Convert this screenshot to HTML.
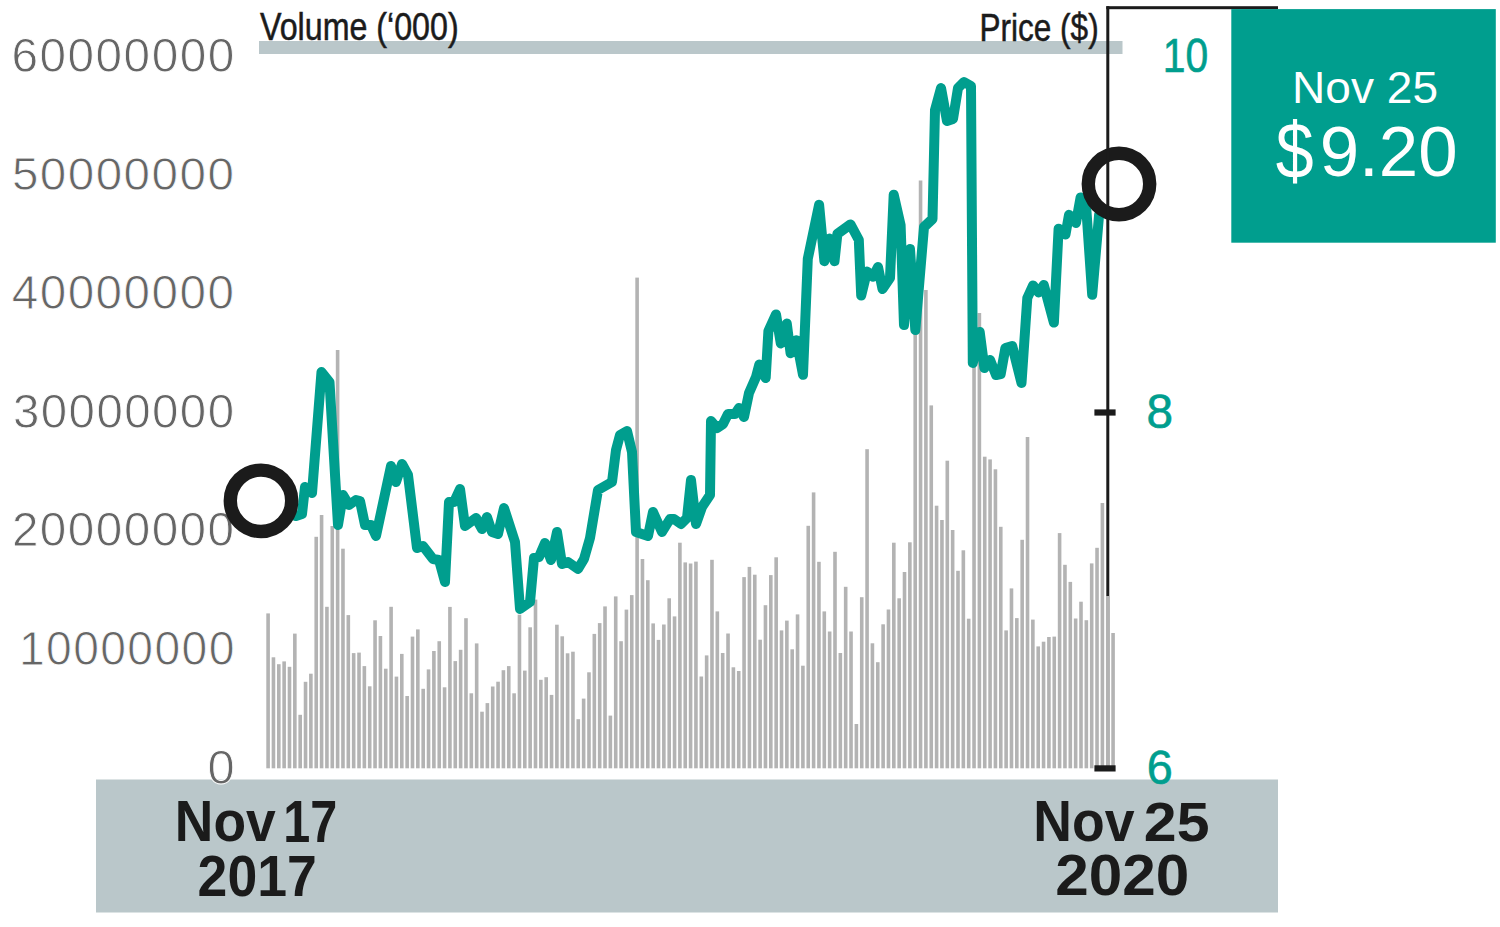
<!DOCTYPE html>
<html><head><meta charset="utf-8"><style>
html,body{margin:0;padding:0;background:#fff;}
svg{display:block;}
text{font-family:"Liberation Sans",sans-serif;}
</style></head><body>
<svg width="1500" height="927" viewBox="0 0 1500 927">
<rect x="0" y="0" width="1500" height="927" fill="#fff"/>
<!-- header strip -->
<rect x="259" y="41" width="863.5" height="13" fill="#bac7ca"/>
<text transform="translate(260.0,40.2) scale(0.8945,1.1)" font-size="36" font-weight="normal" fill="#1b1b1b" stroke="#1b1b1b" stroke-width="0.5">Volume (‘000)</text>
<text transform="translate(979.47,40.74) scale(0.8763,1.0694)" font-size="36" font-weight="normal" fill="#1b1b1b" stroke="#1b1b1b" stroke-width="0.5">Price ($)</text>
<!-- bottom band -->
<rect x="96" y="779.5" width="1182" height="133" fill="#bac7ca"/>
<!-- y labels -->
<text transform="translate(11.59,72.0) scale(1.0383,1.0581)" font-size="46" font-weight="normal" fill="#666666" letter-spacing="1.4" stroke="#fff" stroke-width="0.8">60000000</text>
<text transform="translate(11.89,190.3) scale(1.0354,1.0188)" font-size="46" font-weight="normal" fill="#666666" letter-spacing="1.4" stroke="#fff" stroke-width="0.8">50000000</text>
<text transform="translate(11.73,309.2) scale(1.0362,1.0312)" font-size="46" font-weight="normal" fill="#666666" letter-spacing="1.4" stroke="#fff" stroke-width="0.8">40000000</text>
<text transform="translate(12.94,427.6) scale(1.031,1.0581)" font-size="46" font-weight="normal" fill="#666666" letter-spacing="1.4" stroke="#fff" stroke-width="0.8">30000000</text>
<text transform="translate(11.89,546.2) scale(1.0364,1.0581)" font-size="46" font-weight="normal" fill="#666666" letter-spacing="1.4" stroke="#fff" stroke-width="0.8">20000000</text>
<text transform="translate(18.88,665.2) scale(1.0053,1.0375)" font-size="46" font-weight="normal" fill="#666666" letter-spacing="1.4" stroke="#fff" stroke-width="0.8">10000000</text>
<text transform="translate(207.58,783.7) scale(1.0619,1.0452)" font-size="46" font-weight="normal" fill="#666666" letter-spacing="1.4" stroke="#fff" stroke-width="0.8">0</text>
<!-- right axis -->
<rect x="1106.3" y="6.2" width="171.7" height="3" fill="#1b1b1b"/>
<rect x="1106.3" y="6.2" width="3" height="762" fill="#1b1b1b"/>
<text transform="translate(1162.83,72.2) scale(0.8891,1.0281)" font-size="46" font-weight="normal" fill="#009e8e" stroke="#009e8e" stroke-width="0.6">10</text>
<text transform="translate(1146.53,428.2) scale(1.0364,1.0312)" font-size="46" font-weight="normal" fill="#009e8e" stroke="#009e8e" stroke-width="0.6">8</text>
<text transform="translate(1146.66,784.2) scale(1.0182,1.0281)" font-size="46" font-weight="normal" fill="#009e8e" stroke="#009e8e" stroke-width="0.6">6</text>
<!-- bars -->
<g fill="#b3b3b3">
<rect x="266.30" y="613.4" width="3.6" height="154.9"/><rect x="271.65" y="657.3" width="3.6" height="111.0"/><rect x="277.00" y="664.2" width="3.6" height="104.1"/><rect x="282.34" y="661.4" width="3.6" height="106.9"/><rect x="287.69" y="666.8" width="3.6" height="101.5"/><rect x="293.04" y="633.6" width="3.6" height="134.7"/><rect x="298.39" y="714.8" width="3.6" height="53.5"/><rect x="303.74" y="681.8" width="3.6" height="86.5"/><rect x="309.08" y="673.7" width="3.6" height="94.6"/><rect x="314.43" y="536.8" width="3.6" height="231.5"/><rect x="319.78" y="515.0" width="3.6" height="253.3"/><rect x="325.13" y="606.8" width="3.6" height="161.5"/><rect x="330.48" y="526.0" width="3.6" height="242.3"/><rect x="335.82" y="350.0" width="3.6" height="418.3"/><rect x="341.17" y="548.7" width="3.6" height="219.6"/><rect x="346.52" y="615.1" width="3.6" height="153.2"/><rect x="351.87" y="653.1" width="3.6" height="115.2"/><rect x="357.22" y="652.6" width="3.6" height="115.7"/><rect x="362.56" y="666.1" width="3.6" height="102.2"/><rect x="367.91" y="686.3" width="3.6" height="82.0"/><rect x="373.26" y="620.3" width="3.6" height="148.0"/><rect x="378.61" y="636.0" width="3.6" height="132.3"/><rect x="383.96" y="668.7" width="3.6" height="99.6"/><rect x="389.30" y="606.8" width="3.6" height="161.5"/><rect x="394.65" y="676.6" width="3.6" height="91.7"/><rect x="400.00" y="653.9" width="3.6" height="114.4"/><rect x="405.35" y="696.0" width="3.6" height="72.3"/><rect x="410.70" y="636.6" width="3.6" height="131.7"/><rect x="416.04" y="629.4" width="3.6" height="138.9"/><rect x="421.39" y="688.8" width="3.6" height="79.5"/><rect x="426.74" y="669.4" width="3.6" height="98.9"/><rect x="432.09" y="651.0" width="3.6" height="117.3"/><rect x="437.44" y="641.2" width="3.6" height="127.1"/><rect x="442.78" y="687.3" width="3.6" height="81.0"/><rect x="448.13" y="606.9" width="3.6" height="161.4"/><rect x="453.48" y="661.1" width="3.6" height="107.2"/><rect x="458.83" y="649.8" width="3.6" height="118.5"/><rect x="464.18" y="618.2" width="3.6" height="150.1"/><rect x="469.52" y="693.3" width="3.6" height="75.0"/><rect x="474.87" y="643.4" width="3.6" height="124.9"/><rect x="480.22" y="711.7" width="3.6" height="56.6"/><rect x="485.57" y="703.1" width="3.6" height="65.2"/><rect x="490.92" y="686.5" width="3.6" height="81.8"/><rect x="496.26" y="681.7" width="3.6" height="86.6"/><rect x="501.61" y="670.2" width="3.6" height="98.1"/><rect x="506.96" y="666.1" width="3.6" height="102.2"/><rect x="512.31" y="693.3" width="3.6" height="75.0"/><rect x="517.66" y="614.7" width="3.6" height="153.6"/><rect x="523.00" y="670.6" width="3.6" height="97.7"/><rect x="528.35" y="627.3" width="3.6" height="141.0"/><rect x="533.70" y="599.6" width="3.6" height="168.7"/><rect x="539.05" y="679.8" width="3.6" height="88.5"/><rect x="544.40" y="677.2" width="3.6" height="91.1"/><rect x="549.74" y="694.9" width="3.6" height="73.4"/><rect x="555.09" y="624.7" width="3.6" height="143.6"/><rect x="560.44" y="636.3" width="3.6" height="132.0"/><rect x="565.79" y="653.3" width="3.6" height="115.0"/><rect x="571.14" y="651.7" width="3.6" height="116.6"/><rect x="576.48" y="719.2" width="3.6" height="49.1"/><rect x="581.83" y="698.6" width="3.6" height="69.7"/><rect x="587.18" y="672.3" width="3.6" height="96.0"/><rect x="592.53" y="633.9" width="3.6" height="134.4"/><rect x="597.88" y="623.1" width="3.6" height="145.2"/><rect x="603.22" y="606.4" width="3.6" height="161.9"/><rect x="608.57" y="715.6" width="3.6" height="52.7"/><rect x="613.92" y="596.4" width="3.6" height="171.9"/><rect x="619.27" y="641.2" width="3.6" height="127.1"/><rect x="624.62" y="609.6" width="3.6" height="158.7"/><rect x="629.96" y="595.1" width="3.6" height="173.2"/><rect x="635.31" y="277.6" width="3.6" height="490.7"/><rect x="640.66" y="559.0" width="3.6" height="209.3"/><rect x="646.01" y="580.2" width="3.6" height="188.1"/><rect x="651.36" y="623.4" width="3.6" height="144.9"/><rect x="656.70" y="639.9" width="3.6" height="128.4"/><rect x="662.05" y="624.5" width="3.6" height="143.8"/><rect x="667.40" y="598.3" width="3.6" height="170.0"/><rect x="672.75" y="616.4" width="3.6" height="151.9"/><rect x="678.10" y="542.7" width="3.6" height="225.6"/><rect x="683.44" y="562.4" width="3.6" height="205.9"/><rect x="688.79" y="563.5" width="3.6" height="204.8"/><rect x="694.14" y="561.6" width="3.6" height="206.7"/><rect x="699.49" y="676.5" width="3.6" height="91.8"/><rect x="704.84" y="655.4" width="3.6" height="112.9"/><rect x="710.18" y="559.8" width="3.6" height="208.5"/><rect x="715.53" y="611.4" width="3.6" height="156.9"/><rect x="720.88" y="653.0" width="3.6" height="115.3"/><rect x="726.23" y="633.5" width="3.6" height="134.8"/><rect x="731.58" y="667.3" width="3.6" height="101.0"/><rect x="736.92" y="671.0" width="3.6" height="97.3"/><rect x="742.27" y="577.1" width="3.6" height="191.2"/><rect x="747.62" y="566.9" width="3.6" height="201.4"/><rect x="752.97" y="574.7" width="3.6" height="193.6"/><rect x="758.32" y="639.7" width="3.6" height="128.6"/><rect x="763.66" y="605.2" width="3.6" height="163.1"/><rect x="769.01" y="575.1" width="3.6" height="193.2"/><rect x="774.36" y="557.3" width="3.6" height="211.0"/><rect x="779.71" y="630.4" width="3.6" height="137.9"/><rect x="785.06" y="620.6" width="3.6" height="147.7"/><rect x="790.40" y="649.3" width="3.6" height="119.0"/><rect x="795.75" y="614.4" width="3.6" height="153.9"/><rect x="801.10" y="665.7" width="3.6" height="102.6"/><rect x="806.45" y="525.8" width="3.6" height="242.5"/><rect x="811.80" y="492.4" width="3.6" height="275.9"/><rect x="817.14" y="561.8" width="3.6" height="206.5"/><rect x="822.49" y="611.4" width="3.6" height="156.9"/><rect x="827.84" y="631.5" width="3.6" height="136.8"/><rect x="833.19" y="551.8" width="3.6" height="216.5"/><rect x="838.54" y="653.0" width="3.6" height="115.3"/><rect x="843.88" y="586.8" width="3.6" height="181.5"/><rect x="849.23" y="631.5" width="3.6" height="136.8"/><rect x="854.58" y="724.0" width="3.6" height="44.3"/><rect x="859.93" y="597.2" width="3.6" height="171.1"/><rect x="865.28" y="449.2" width="3.6" height="319.1"/><rect x="870.62" y="643.3" width="3.6" height="125.0"/><rect x="875.97" y="662.2" width="3.6" height="106.1"/><rect x="881.32" y="624.3" width="3.6" height="144.0"/><rect x="886.67" y="609.5" width="3.6" height="158.8"/><rect x="892.02" y="542.7" width="3.6" height="225.6"/><rect x="897.36" y="598.3" width="3.6" height="170.0"/><rect x="902.71" y="572.0" width="3.6" height="196.3"/><rect x="908.06" y="542.3" width="3.6" height="226.0"/><rect x="913.41" y="330.0" width="3.6" height="438.3"/><rect x="918.76" y="180.5" width="3.6" height="587.8"/><rect x="924.10" y="290.0" width="3.6" height="478.3"/><rect x="929.45" y="405.4" width="3.6" height="362.9"/><rect x="934.80" y="505.7" width="3.6" height="262.6"/><rect x="940.15" y="520.0" width="3.6" height="248.3"/><rect x="945.50" y="460.7" width="3.6" height="307.6"/><rect x="950.84" y="530.0" width="3.6" height="238.3"/><rect x="956.19" y="570.8" width="3.6" height="197.5"/><rect x="961.54" y="550.3" width="3.6" height="218.0"/><rect x="966.89" y="618.7" width="3.6" height="149.6"/><rect x="972.24" y="360.0" width="3.6" height="408.3"/><rect x="977.58" y="313.0" width="3.6" height="455.3"/><rect x="982.93" y="456.7" width="3.6" height="311.6"/><rect x="988.28" y="459.4" width="3.6" height="308.9"/><rect x="993.63" y="469.3" width="3.6" height="299.0"/><rect x="998.98" y="526.8" width="3.6" height="241.5"/><rect x="1004.32" y="630.4" width="3.6" height="137.9"/><rect x="1009.67" y="588.4" width="3.6" height="179.9"/><rect x="1015.02" y="618.1" width="3.6" height="150.2"/><rect x="1020.37" y="539.8" width="3.6" height="228.5"/><rect x="1025.72" y="437.0" width="3.6" height="331.3"/><rect x="1031.06" y="619.6" width="3.6" height="148.7"/><rect x="1036.41" y="646.4" width="3.6" height="121.9"/><rect x="1041.76" y="641.7" width="3.6" height="126.6"/><rect x="1047.11" y="637.0" width="3.6" height="131.3"/><rect x="1052.46" y="636.6" width="3.6" height="131.7"/><rect x="1057.80" y="533.1" width="3.6" height="235.2"/><rect x="1063.15" y="564.8" width="3.6" height="203.5"/><rect x="1068.50" y="581.9" width="3.6" height="186.4"/><rect x="1073.85" y="618.5" width="3.6" height="149.8"/><rect x="1079.20" y="601.7" width="3.6" height="166.6"/><rect x="1084.54" y="620.2" width="3.6" height="148.1"/><rect x="1089.89" y="563.4" width="3.6" height="204.9"/><rect x="1095.24" y="547.8" width="3.6" height="220.5"/><rect x="1100.59" y="503.0" width="3.6" height="265.3"/><rect x="1105.94" y="596.0" width="3.6" height="172.3"/><rect x="1111.28" y="633.0" width="3.6" height="135.3"/>
</g>
<rect x="1094.4" y="409.4" width="21.2" height="6.2" fill="#1b1b1b"/>
<rect x="1094.4" y="765.3" width="21.2" height="6.2" fill="#1b1b1b"/>
<!-- price line -->
<polyline points="263,503 296,516 302,514 305,487 312,493 321.5,372 329.5,382 338,525 343,495 349,505 356,500 360,501 365,525 371,525 376,536 391,466 396,482 402,464 408,475 417,548 423,546 433,559 439,560 445,582 449,502 454,502 460,489 465,526 476,518 482,529 487,517 492,532 498,534 504,508 515,542 520,609 530,602 534,558 539,557 545,543 551,560 557,532 562,564 568,562 578,569 584,559 590,538 598,490 612,482 616,450 620,435 627,431 632,452 636,532 648,536 653,512 662,532 670,519 674,519 681,524 687,518 691,480 696,524 702,507 710,495 711,421 717,428 723,424 728,414 735,414 739,408 744,417 749,393 756,377 759.3,364.6 765.7,378 768.4,331 776,314.4 780.8,343.5 786.8,323.6 790.6,353.3 796.5,340.3 803,374.8 807.8,258.8 819.1,204.8 824.4,261.2 829.7,238.6 834.5,261.2 837.4,233.9 850.5,224.4 858.8,239.8 861.2,295.6 867,271.5 873,276.7 878,267 882.5,289 890,278 893.7,194.7 900.6,225 904,325 910,249 915.3,330 924,227 932.5,219 935,110 941,88 947,121 953,119 958,88 964,82 971,86 972.8,363 979.7,332 984.4,368 990.1,360 996,375 1000.7,374 1005.4,348 1012.2,346 1021.5,383 1027.3,298 1033,285.5 1038.8,292.5 1043.8,285 1053.9,322.6 1058.6,228.7 1065.5,234.5 1069,214.8 1076,222.9 1080.6,197.4 1086.4,210.1 1092.2,294.8 1099.1,214.8 1119,184" fill="none" stroke="#009e8e" stroke-width="10" stroke-linejoin="round" stroke-linecap="round"/>
<!-- circles -->
<circle cx="261" cy="500.8" r="30.7" fill="#fff" stroke="#1b1b1b" stroke-width="13.4"/>
<circle cx="1119" cy="184" r="30.7" fill="#fff" stroke="#1b1b1b" stroke-width="13.4"/>
<rect x="1106.3" y="150" width="3" height="68" fill="#1b1b1b"/>
<!-- teal box -->
<rect x="1231.3" y="9.1" width="264.5" height="233.6" fill="#009e8e"/>
<text transform="translate(1292.11,102.5) scale(1.047,1.0258)" font-size="44" font-weight="normal" fill="#fff">Nov 25</text>
<text transform="translate(1275.73,178.37) scale(0.973,1.1259)" font-size="70" font-weight="normal" fill="#fff">$</text>
<text transform="translate(1319.66,175.9) scale(1.0122,0.998)" font-size="70" font-weight="normal" fill="#fff">9.20</text>
<!-- date labels -->
<text transform="translate(174.85,841.19) scale(0.9369,1.0098)" font-size="57" font-weight="bold" fill="#1b1b1b">Nov</text>
<text transform="translate(283.34,842.2) scale(0.8517,1.035)" font-size="57" font-weight="bold" fill="#1b1b1b">17</text>
<text transform="translate(197.62,895.5) scale(0.9402,0.9952)" font-size="57" font-weight="bold" fill="#1b1b1b">2017</text>
<text transform="translate(1033.24,841.19) scale(0.9408,1.0098)" font-size="57" font-weight="bold" fill="#1b1b1b">Nov</text>
<text transform="translate(1143.83,841.21) scale(1.035,0.9857)" font-size="57" font-weight="bold" fill="#1b1b1b">25</text>
<text transform="translate(1055.29,895.4) scale(1.0574,1.0)" font-size="57" font-weight="bold" fill="#1b1b1b">2020</text>
</svg>
</body></html>
